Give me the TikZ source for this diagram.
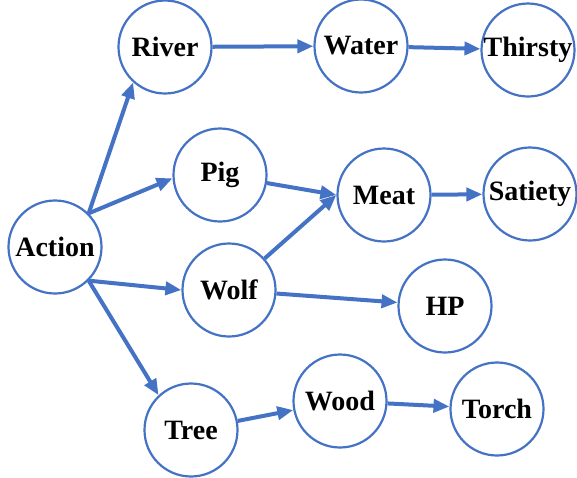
\documentclass[tikz,border=0pt]{standalone}
\usepackage{fontspec}
\setmainfont{Liberation Serif}
\usetikzlibrary{arrows.meta}
\definecolor{nodeblue}{HTML}{4472C4}

\begin{document}
\begin{tikzpicture}[x=1pt,y=-1pt]
\tikzset{statenode/.style={circle,draw=nodeblue,line width=2.2pt,minimum size=93pt,inner sep=0pt,font=\fontsize{28}{30}\selectfont\bfseries},
edge/.style={draw=nodeblue,line width=4pt,-{Triangle[length=16pt,width=13pt]}}}
\useasboundingbox (0,0) rectangle (577,477);

\node (act) [statenode] at (55, 247) {Action};
\node (river) [statenode] at (165, 47) {River};
\node (water) [statenode] at (361, 46) {Water};
\node (thirsty) [statenode] at (528, 50) {Thirsty};
\node (pig) [statenode] at (220, 175) {Pig};
\node (meat) [statenode] at (384, 195) {Meat};
\node (satiety) [statenode] at (530, 194) {Satiety};
\node (wolf) [statenode] at (229, 290) {Wolf};
\node (hp) [statenode] at (445, 306) {HP};
\node (tree) [statenode] at (191, 430) {Tree};
\node (wood) [statenode] at (340, 401) {Wood};
\node (torch) [statenode] at (497, 409) {Torch};

%% Edges
\draw [edge] (act.north east) -- (river.228);
\draw [edge] (act.north east) -- (pig.184);
\draw [edge] (act.south east) -- (wolf.west);
\draw [edge] (act.south east) -- (tree.133);
\draw [edge] (river) -- (water);
\draw [edge] (water) -- (thirsty);
\draw [edge] (pig) -- (meat.west);
\draw [edge] (wolf) -- (meat.west);
\draw [edge] (meat) -- (satiety);
\draw [edge] (wolf) -- (hp);
\draw [edge] (tree) -- (wood);
\draw [edge] (wood) -- (torch);

\end{tikzpicture}
\end{document}
